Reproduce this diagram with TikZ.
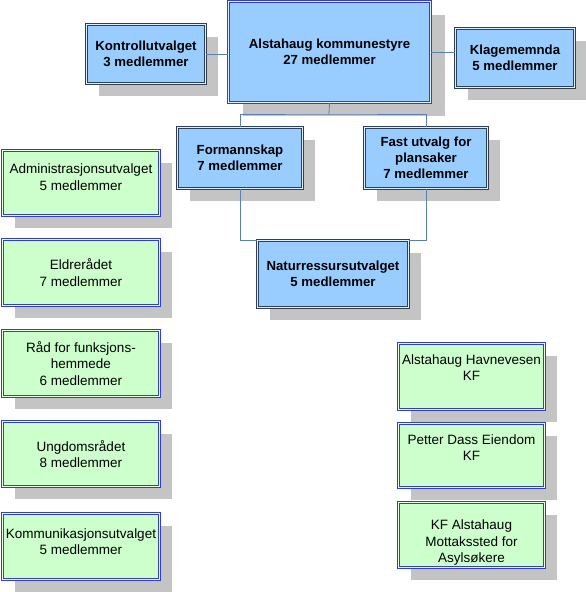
\documentclass[tikz,border=0pt]{standalone}
\usepackage{fontspec}
\setmainfont{Liberation Sans}
\usetikzlibrary{shadows}
\definecolor{bfill}{HTML}{99CCFF}
\definecolor{gfill}{HTML}{CCFFCC}
\definecolor{dkb}{HTML}{2E3E55}
\definecolor{blb}{HTML}{3040CC}
\definecolor{shd}{HTML}{C4C4C4}
\definecolor{conn}{HTML}{5A7FB8}
\begin{document}
\begin{tikzpicture}[x=1pt,y=-1pt,
  shad/.style={general shadow={shadow xshift=12pt, shadow yshift=-12pt, fill=shd}},
  bigshad/.style={general shadow={shadow xshift=14pt, shadow yshift=-13pt, fill=shd}},
  boxbase/.style={anchor=north west, inner sep=0pt, line width=1pt, double distance=0.9pt},
  darkbox/.style={boxbase, draw=dkb, double=white!70!bfill, fill=bfill, shad},
  bluebox/.style={boxbase, draw=blb, double=white!70!bfill, fill=bfill, bigshad},
  greenbox/.style={boxbase, draw=blb, double=white!60!gfill, fill=gfill, shad},
  btext/.style={align=center, font=\fontsize{13.2}{16}\selectfont\bfseries, inner sep=0pt},
  gtext/.style={align=center, font=\fontsize{13.5}{16.5}\selectfont, inner sep=0pt},
  connector/.style={draw=conn, line width=0.8pt}]
\useasboundingbox (0,0) rectangle (586,592);
\fill[white] (0,0) rectangle (586,592);
% boxes
\node[darkbox, minimum width=119pt, minimum height=59pt] (kon) at (86,24) {};
\node[bluebox, minimum width=202pt, minimum height=101pt] (kom) at (228,1) {};
\node[darkbox, minimum width=119pt, minimum height=59pt] (kla) at (455,28) {};
\node[darkbox, minimum width=125pt, minimum height=61pt] (for) at (177,127) {};
\node[darkbox, minimum width=123pt, minimum height=61pt] (fast) at (364,127) {};
\node[darkbox, minimum width=151pt, minimum height=67pt] (nat) at (257,240) {};
\node[greenbox, minimum width=157pt, minimum height=65pt] (adm) at (2,150) {};
\node[greenbox, minimum width=157pt, minimum height=66pt] (eld) at (2,239) {};
\node[greenbox, minimum width=157pt, minimum height=66pt] (rad) at (2,330) {};
\node[greenbox, minimum width=157pt, minimum height=65pt] (ung) at (2,421) {};
\node[greenbox, minimum width=157pt, minimum height=66pt] (kmu) at (2,513) {};
\node[greenbox, minimum width=146pt, minimum height=66pt] (hav) at (398,343) {};
\node[greenbox, minimum width=146pt, minimum height=64pt] (pet) at (398,423) {};
\node[greenbox, minimum width=146pt, minimum height=65pt] (kfa) at (398,502) {};
% texts
\node[btext] (kon-t) at (kon.center) {Kontrollutvalget\\3 medlemmer};
\node[btext] (kom-t) at (kom.center) {Alstahaug kommunestyre\\27 medlemmer};
\node[btext] (kla-t) at (kla.center) {Klagememnda\\5 medlemmer};
\node[btext] (for-t) at (for.center) {Formannskap\\7 medlemmer};
\node[btext] (fast-t) at (fast.center) {Fast utvalg for\\plansaker\\7 medlemmer};
\node[btext] (nat-t) at (nat.center) {Naturressursutvalget\\5 medlemmer};
\node[gtext, yshift=6pt] (adm-t) at (adm.center) {Administrasjonsutvalget\\5 medlemmer};
\node[gtext] (eld-t) at (eld.center) {Eldrerådet\\7 medlemmer};
\node[gtext] (rad-t) at (rad.center) {Råd for funksjons-\\hemmede\\6 medlemmer};
\node[gtext] (ung-t) at (ung.center) {Ungdomsrådet\\8 medlemmer};
\node[gtext, yshift=5pt] (kmu-t) at (kmu.center) {Kommunikasjonsutvalget\\5 medlemmer};
\node[gtext, yshift=9pt] (hav-t) at (hav.center) {Alstahaug Havnevesen\\KF};
\node[gtext, yshift=8pt] (pet-t) at (pet.center) {Petter Dass Eiendom\\KF};
\node[gtext, yshift=-8pt] (kfa-t) at (kfa.center) {KF Alstahaug\\Mottakssted for\\Asylsøkere};
% connectors
\coordinate (jn) at (329,114);
\draw[connector] (kon.east) -- (kon.east -| kom.west);
\draw[connector] (kom.east) -- (kom.east -| kla.west);
\draw[connector] (kom.south) -- (jn);
\draw[connector] (for.north) |- (jn) -| (fast.north);
\draw[connector] (for.south) |- (nat.north west);
\draw[connector] (fast.south) |- (nat.north east);
\end{tikzpicture}
\end{document}
